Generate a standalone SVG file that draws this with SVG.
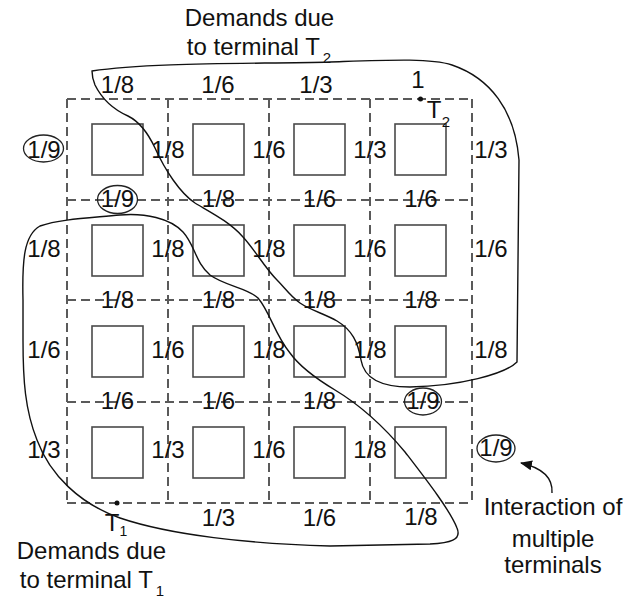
<svg xmlns="http://www.w3.org/2000/svg" width="629" height="599" viewBox="0 0 629 599">
<style>
text{font-family:"Liberation Sans",Arial,sans-serif;font-size:24px;fill:#111;text-anchor:middle}
.sub{font-size:15px}
.sub2{font-size:14px}
.grid{stroke:#5a5a5a;stroke-width:2;stroke-dasharray:9 5;fill:none}
.cell{fill:#fff;stroke:#4a4a4a;stroke-width:1.6}
.ring{fill:none;stroke:#222;stroke-width:1.3}
.curve{fill:none;stroke:#111;stroke-width:1.4}
</style>
<defs>
<marker id="ah" viewBox="0 0 12 10" refX="11" refY="5" markerWidth="12" markerHeight="10" markerUnits="userSpaceOnUse" orient="auto">
<path d="M0,0 L12,5 L0,10 Z" fill="#111"/>
</marker>
</defs>
<rect width="629" height="599" fill="#fff"/>
<g id="grid">
<path class="grid" d="M67,99H472M67,200H472M67,300H472M67,402H472M67,503H472M67,99V503M168,99V503M269,99V503M370,99V503M472,99V503"/>
</g>
<g id="cells">
<rect class="cell" x="92" y="124" width="51" height="51"/>
<rect class="cell" x="193" y="124" width="51" height="51"/>
<rect class="cell" x="294" y="124" width="51" height="51"/>
<rect class="cell" x="395" y="124" width="51" height="51"/>
<rect class="cell" x="92" y="225" width="51" height="51"/>
<rect class="cell" x="193" y="225" width="51" height="51"/>
<rect class="cell" x="294" y="225" width="51" height="51"/>
<rect class="cell" x="395" y="225" width="51" height="51"/>
<rect class="cell" x="92" y="326" width="51" height="51"/>
<rect class="cell" x="193" y="326" width="51" height="51"/>
<rect class="cell" x="294" y="326" width="51" height="51"/>
<rect class="cell" x="395" y="326" width="51" height="51"/>
<rect class="cell" x="92" y="427" width="51" height="51"/>
<rect class="cell" x="193" y="427" width="51" height="51"/>
<rect class="cell" x="294" y="427" width="51" height="51"/>
<rect class="cell" x="395" y="427" width="51" height="51"/>
</g>
<g id="labels">
<text x="117.5" y="93">1/8</text>
<text x="218" y="93">1/6</text>
<text x="316" y="93">1/3</text>
<text x="418" y="88">1</text>
<text x="44" y="158">1/9</text>
<text x="168" y="158">1/8</text>
<text x="269" y="158">1/6</text>
<text x="370" y="158">1/3</text>
<text x="491" y="158">1/3</text>
<text x="117.5" y="207">1/9</text>
<text x="218.5" y="207">1/8</text>
<text x="319.5" y="207">1/6</text>
<text x="421" y="207">1/6</text>
<text x="44" y="257">1/8</text>
<text x="168" y="257">1/8</text>
<text x="269" y="257">1/8</text>
<text x="370" y="257">1/6</text>
<text x="491" y="257">1/6</text>
<text x="117.5" y="308">1/8</text>
<text x="218.5" y="308">1/8</text>
<text x="319.5" y="308">1/8</text>
<text x="421" y="308">1/8</text>
<text x="44" y="358">1/6</text>
<text x="168" y="358">1/6</text>
<text x="269" y="358">1/8</text>
<text x="370" y="358">1/8</text>
<text x="491" y="358">1/8</text>
<text x="117.5" y="409">1/6</text>
<text x="218.5" y="409">1/6</text>
<text x="319.5" y="409">1/8</text>
<text x="423" y="409">1/9</text>
<text x="44" y="458">1/3</text>
<text x="168" y="458">1/3</text>
<text x="269" y="458">1/6</text>
<text x="370" y="458">1/8</text>
<text x="496" y="456">1/9</text>
<text x="218.5" y="526">1/3</text>
<text x="319.5" y="526">1/6</text>
<text x="421" y="525">1/8</text>
</g>
<g id="rings">
<ellipse class="ring" cx="43.5" cy="148.5" rx="20" ry="13.5"/>
<ellipse class="ring" cx="117.5" cy="199.5" rx="20" ry="14"/>
<ellipse class="ring" cx="423" cy="401.5" rx="18.5" ry="13.5"/>
<ellipse class="ring" cx="496" cy="448.5" rx="19" ry="13.5"/>
</g>
<g id="terminal-T2">
<circle cx="420.5" cy="99" r="2.5" fill="#111"/>
<text x="434" y="118">T</text>
<text class="sub" x="446" y="127">2</text>
</g>
<g id="terminal-T1">
<circle cx="117" cy="503" r="2.5" fill="#111"/>
<text x="112" y="531">T</text>
<text class="sub2" x="123.5" y="536">1</text>
</g>
<g id="connectors">
<path id="region-T2" class="curve" d="M92,71 C150,62 260,64 330,62 C390,60 430,58 452,65 C490,78 515,110 519,160 L517,362 C505,374 460,386 410,387 C380,387 364,378 361,360 C358,342 352,330 337,321 C325,314 310,310 300,303 C290,296 285,288 277,280 C265,268 255,250 243,237 C230,222 210,212 195,203 C180,193 165,170 155,148 C148,133 140,122 128,116 C110,108 100,95 95,85 C93,80 92,76 92,71 Z"/>
<path id="region-T1" class="curve" d="M23,300 C22,260 24,235 40,226 C60,219 90,218 120,215 C145,213 170,218 183,232 C195,245 195,262 210,275 C225,286 248,288 258,298 C270,312 275,335 290,353 C300,367 315,378 335,390 C360,405 385,428 405,452 C425,478 450,510 457,528 C462,540 450,543 430,544 L330,546 C250,544 170,535 120,518 C80,504 50,475 37,440 C25,410 23,380 23,340 Z"/>
<path class="curve" d="M552,493 C553,478 543,468 521,463" marker-end="url(#ah)"/>
</g>
<g id="captions">
<text x="259.5" y="26">Demands due</text>
<text x="259" y="55">to terminal T<tspan class="sub" dx="3" dy="8">2</tspan></text>
<text x="91.5" y="559">Demands due</text>
<text x="92" y="588">to terminal T<tspan class="sub" dx="3" dy="8">1</tspan></text>
<text x="553" y="515">Interaction of</text>
<text x="553" y="547">multiple</text>
<text x="553" y="573">terminals</text>
</g>
</svg>
